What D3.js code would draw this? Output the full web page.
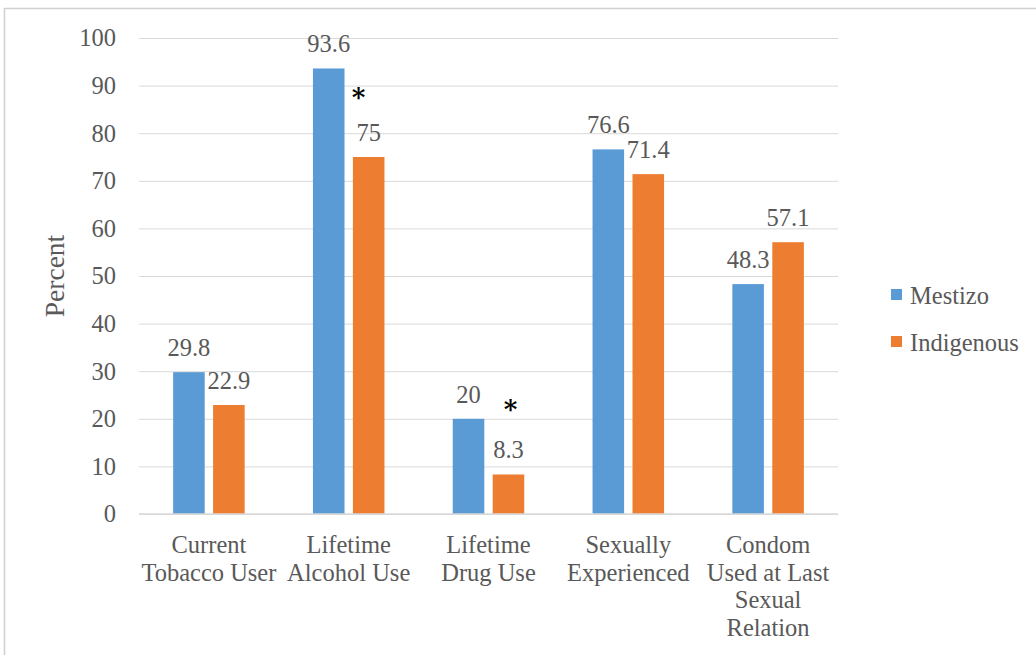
<!DOCTYPE html>
<html>
<head>
<meta charset="utf-8">
<script src="https://cdn.jsdelivr.net/npm/d3@7"></script>
<style>
  html, body { margin: 0; padding: 0; background: #fff; }
  svg { display: block; }
  text { font-family: "Liberation Serif", "DejaVu Serif", serif; fill: #595959; }
</style>
</head>
<body>
<svg id="chart" width="1036" height="655"></svg>
<script>
// Survey categories (multi-line labels) and percentages per group
const categories = [
  ["Current", "Tobacco User"],
  ["Lifetime", "Alcohol Use"],
  ["Lifetime", "Drug Use"],
  ["Sexually", "Experienced"],
  ["Condom", "Used at Last", "Sexual", "Relation"]
];
const seriesNames = ["Mestizo", "Indigenous"];
const mestizo = [29.8, 93.6, 20, 76.6, 48.3];
const indigenous = [22.9, 75, 8.3, 71.4, 57.1];
// Significance markers: category index and the percent level they sit at
const markerCategories = [1, 2];
const markerLevels = [88.4, 22.9];
const yTicks = [0, 10, 20, 30, 40, 50, 60, 70, 80, 90, 100];

const colors = ["#5B9BD5", "#ED7D31"];
const FONT = 24.5;
const svg = d3.select("#chart");

// Outer chart frame
svg.append("rect")
  .attr("x", 4.5).attr("y", 8.5)
  .attr("width", 1100).attr("height", 700)
  .attr("fill", "none").attr("stroke", "#D0D0D0").attr("stroke-width", 1.5);

const plot = { left: 139, right: 838, top: 38, bottom: 514 };

const x0 = d3.scaleBand()
  .domain(d3.range(categories.length))
  .range([plot.left, plot.right]);

const bw = x0.bandwidth();
const x1 = d3.scaleBand()
  .domain(d3.range(seriesNames.length))
  .range([bw / 2 - 35.75, bw / 2 + 35.75])
  .paddingInner(0.21);

const y = d3.scaleLinear().domain([0, 100]).range([plot.bottom, plot.top]);

// Gridlines and tick labels
const yAxis = d3.axisLeft(y).tickValues(yTicks).tickSize(-(plot.right - plot.left)).tickPadding(23);
const gy = svg.append("g").attr("transform", `translate(${plot.left},0)`).call(yAxis);
gy.select(".domain").remove();
gy.selectAll(".tick line").attr("stroke", "#D9D9D9").attr("stroke-width", 1);
gy.selectAll(".tick text")
  .attr("font-size", FONT)
  .attr("fill", "#595959")
  .style("font-family", '"Liberation Serif", serif');

// Bars
const data = categories.map((c, i) => ({ i, values: [mestizo[i], indigenous[i]] }));
const groups = svg.append("g").selectAll("g").data(data).join("g")
  .attr("transform", d => `translate(${x0(d.i)},0)`);

groups.selectAll("rect").data(d => d.values.map((v, s) => ({ v, s }))).join("rect")
  .attr("x", d => x1(d.s))
  .attr("width", x1.bandwidth())
  .attr("y", d => y(d.v))
  .attr("height", d => y(0) - y(d.v))
  .attr("fill", d => colors[d.s]);

// Value labels
groups.selectAll("text.val").data(d => d.values.map((v, s) => ({ v, s }))).join("text")
  .attr("class", "val")
  .attr("x", d => x1(d.s) + x1.bandwidth() / 2)
  .attr("y", d => y(d.v) - 16)
  .attr("text-anchor", "middle")
  .attr("font-size", FONT)
  .text(d => d.v);

// Significance markers
svg.append("g").selectAll("text").data(markerCategories).join("text")
  .attr("x", (c, k) => x0(c) + x1(1) + x1.bandwidth() / 2 + (k === 0 ? -10 : 2))
  .attr("y", (c, k) => y(markerLevels[k]) + 13)
  .attr("text-anchor", "middle")
  .attr("font-size", 26)
  .attr("font-weight", "bold")
  .style("fill", "#000")
  .style("font-family", '"DejaVu Serif", serif')
  .text("*");

// Baseline
svg.append("line")
  .attr("x1", plot.left).attr("x2", plot.right)
  .attr("y1", y(0)).attr("y2", y(0))
  .attr("stroke", "#D9D9D9").attr("stroke-width", 1.5);

// Category labels
svg.append("g").selectAll("text").data(categories).join("text")
  .attr("x", (d, i) => x0(i) + bw / 2)
  .attr("y", 553)
  .attr("text-anchor", "middle")
  .attr("font-size", FONT)
  .selectAll("tspan").data(d => d).join("tspan")
  .attr("x", function() { return this.parentNode.getAttribute("x"); })
  .attr("dy", (d, k) => k === 0 ? 0 : 27.7)
  .text(d => d);

// Y axis title
svg.append("text")
  .attr("transform", `translate(64,${(plot.top + plot.bottom) / 2}) rotate(-90)`)
  .attr("text-anchor", "middle")
  .attr("font-size", 27.5)
  .text("Percent");

// Legend
const legend = svg.append("g").selectAll("g").data(seriesNames).join("g")
  .attr("transform", (d, i) => `translate(891,${289 + i * 47})`);
legend.append("rect").attr("width", 11).attr("height", 11).attr("fill", (d, i) => colors[i]);
legend.append("text").attr("x", 19).attr("y", 15).attr("font-size", FONT).text(d => d);
</script>
</body>
</html>
